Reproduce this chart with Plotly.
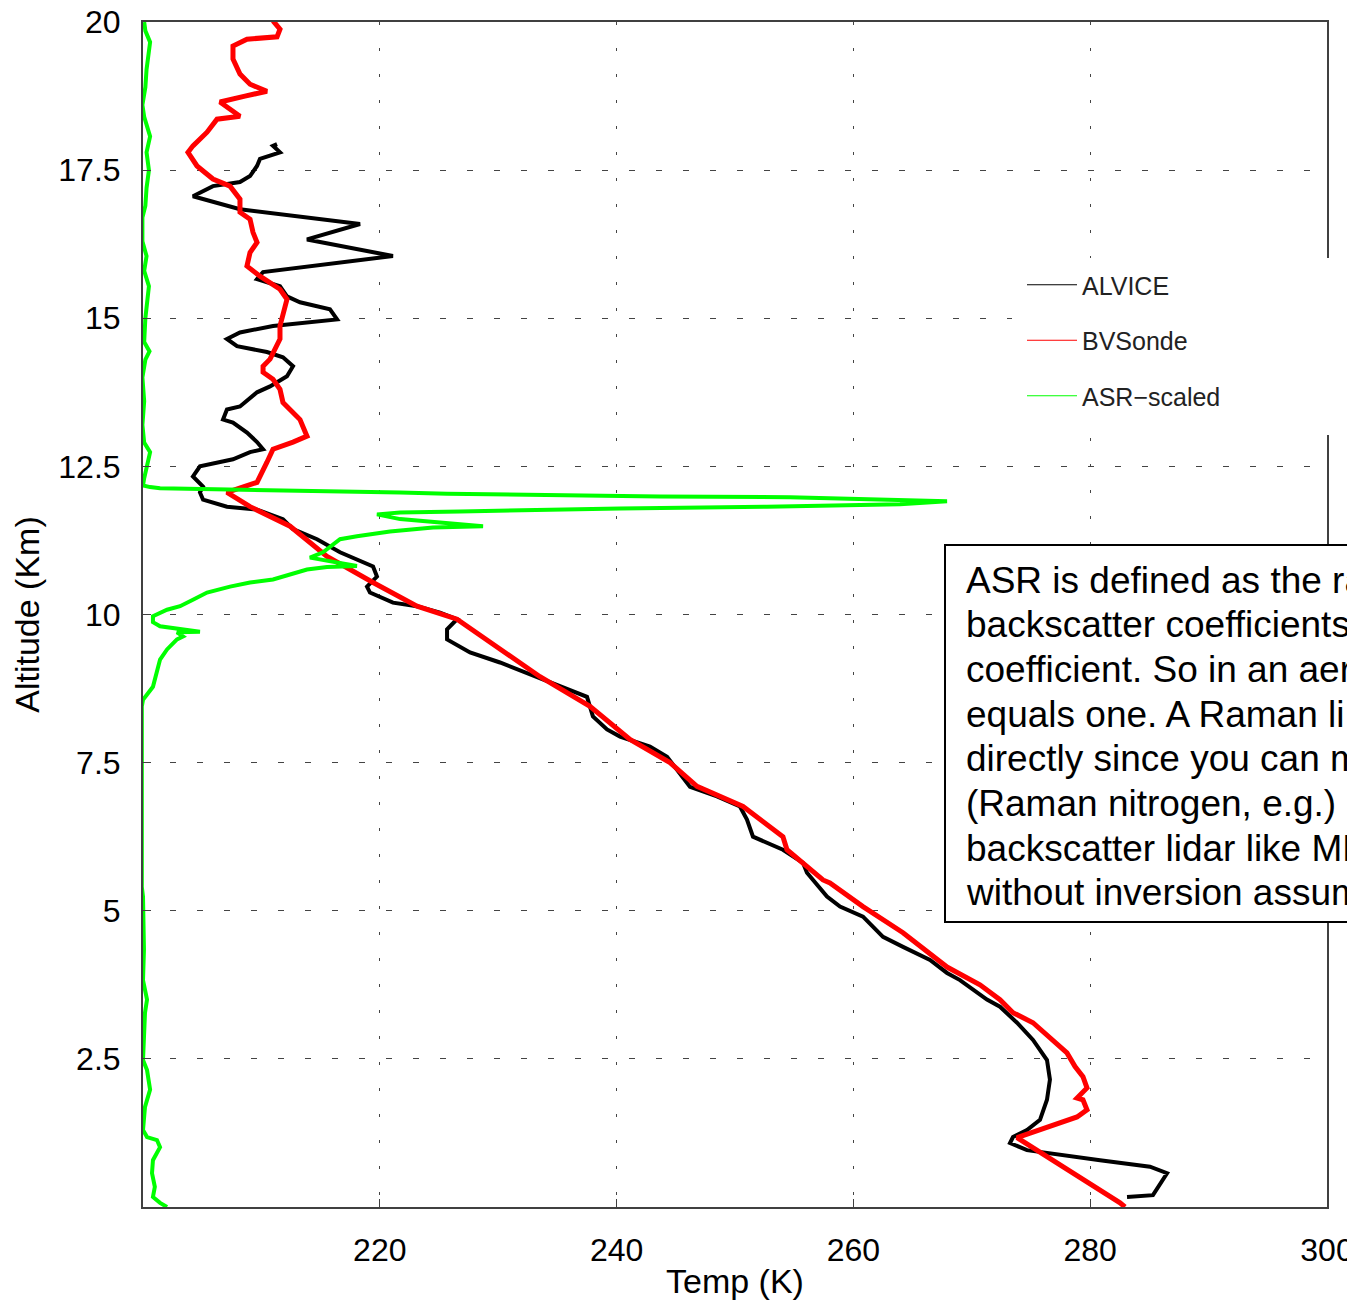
import plotly.graph_objects as go

# ---------------- data ----------------
alvice_temp = [283.11, 285.3, 286.49, 285.05, 280.83, 276.01, 274.66, 273.23, 273.48, 274.66,
               275.76, 276.35, 276.6, 276.35, 275.17, 273.82, 272.38, 271.28, 269.0, 267.91,
               266.47, 264.19, 262.5, 260.81, 258.87, 257.77, 256.08, 255.74, 254.05, 251.52,
               251.01, 250.42, 248.48, 246.2, 245.1, 244.26, 242.82, 240.29, 239.19, 238.0,
               237.5, 233.28, 230.15, 227.62, 225.68, 225.68, 226.52, 225.08, 223.14, 221.11,
               219.17, 218.92, 219.76, 219.43, 218.07, 216.64, 214.7, 212.67, 211.82, 209.63,
               207.09, 205.07, 204.81, 205.07, 204.22, 204.81, 207.6, 209.04, 210.14, 209.63,
               208.78, 207.6, 206.76, 207.09, 208.19, 209.63, 210.73, 212.16, 212.67, 211.82,
               210.47, 207.94, 207.09, 208.19, 210.98, 214.36, 216.39, 215.79, 213.26, 212.16,
               211.57, 209.63, 210.14, 221.11, 213.85, 218.33, 208.19, 204.22, 205.91, 208.19,
               209.04, 209.63, 209.88, 211.57, 210.98, 211.32]
alvice_alt = [0.17, 0.20, 0.57, 0.68, 0.79, 0.91, 0.96, 1.08, 1.18, 1.30,
              1.47, 1.81, 2.15, 2.48, 2.82, 3.11, 3.38, 3.50, 3.83, 3.95,
              4.17, 4.39, 4.56, 4.90, 5.07, 5.24, 5.64, 5.81, 6.03, 6.25,
              6.54, 6.76, 6.93, 7.09, 7.38, 7.60, 7.77, 7.94, 8.06, 8.28,
              8.61, 8.95, 9.19, 9.36, 9.58, 9.75, 9.92, 10.03, 10.14, 10.20,
              10.37, 10.47, 10.64, 10.81, 10.93, 11.05, 11.27, 11.44, 11.61, 11.77,
              11.82, 11.94, 12.06, 12.16, 12.33, 12.50, 12.62, 12.74, 12.79, 12.91,
              13.07, 13.24, 13.29, 13.46, 13.51, 13.75, 13.85, 14.02, 14.19, 14.34,
              14.43, 14.53, 14.65, 14.76, 14.87, 14.93, 14.98, 15.15, 15.27, 15.37,
              15.54, 15.66, 15.78, 16.05, 16.33, 16.59, 16.84, 17.06, 17.23, 17.30,
              17.40, 17.57, 17.69, 17.80, 17.91, 17.94]

bvsonde_temp = [282.94, 282.52, 273.82, 275.76, 278.89, 279.73, 279.39, 278.89, 279.73, 279.39,
                278.72, 278.04, 276.6, 275.17, 273.48, 272.38, 270.69, 267.91, 264.19, 260.81,
                258.02, 257.43, 254.39, 254.05, 250.68, 246.79, 244.51, 241.13, 237.75, 233.53,
                226.52, 223.14, 219.43, 215.54, 212.42, 209.04, 207.09, 209.63, 210.47, 210.98,
                212.67, 213.85, 213.26, 211.82, 211.57, 210.98, 210.14, 210.14, 210.73, 211.57,
                211.57, 211.82, 212.16, 211.57, 209.88, 208.78, 209.04, 209.63, 209.29, 209.04,
                208.19, 208.19, 207.35, 205.91, 204.56, 203.8, 204.22, 205.41, 206.25, 208.19,
                206.5, 208.61, 210.47, 209.04, 208.19, 207.6, 207.6, 208.78, 211.32, 211.57,
                210.98]
bvsonde_alt = [0.0, 0.07, 1.17, 1.30, 1.52, 1.64, 1.81, 1.84, 2.01, 2.20,
               2.37, 2.60, 2.87, 3.11, 3.28, 3.50, 3.75, 4.05, 4.63, 5.07,
               5.47, 5.52, 6.03, 6.25, 6.76, 7.10, 7.50, 7.89, 8.45, 8.95,
               9.92, 10.14, 10.54, 10.98, 11.49, 11.82, 12.06, 12.23, 12.57, 12.79,
               12.91, 13.01, 13.29, 13.58, 13.80, 13.97, 14.09, 14.19, 14.31, 14.65,
               14.87, 15.10, 15.32, 15.49, 15.71, 15.88, 16.11, 16.28, 16.45, 16.67,
               16.79, 17.01, 17.23, 17.35, 17.57, 17.80, 17.91, 18.14, 18.36, 18.41,
               18.65, 18.75, 18.83, 18.95, 19.12, 19.375, 19.595, 19.71, 19.75, 19.88,
               20.02]

asr_temp = [202.03, 201.44, 200.84, 201.0, 200.76, 200.84, 201.44, 201.18, 200.34, 200.0,
            200.17, 200.6, 200.34, 200.0, 200.17, 200.34, 200.0, 200.08, 200.0, 199.9,
            199.9, 200.0, 200.84, 201.18, 201.44, 202.03, 202.87, 203.38, 202.87, 204.81,
            203.38, 201.44, 200.84, 200.84, 202.03, 203.13, 204.22, 205.41, 207.35, 209.04,
            210.98, 212.42, 213.85, 215.54, 218.07, 214.1, 215.2, 216.64, 218.07, 220.86,
            224.49, 228.72, 225.08, 221.71, 219.76, 221.71, 226.77, 233.53, 240.29, 252.7,
            260.56, 263.94, 267.91, 260.56, 254.65, 243.67, 234.8, 225.68, 221.71, 213.26,
            204.81, 201.44, 200.6, 200.0, 200.1, 200.3, 200.6, 200.1, 199.95, 200.1,
            199.95, 200.2, 200.55, 200.1, 200.2, 200.5, 200.1, 200.3, 199.95, 199.95,
            200.2, 200.3, 200.5, 200.3, 200.6, 200.1, 199.95, 200.2, 200.3, 200.6,
            200.2, 200.1]
asr_alt = [0.0, 0.07, 0.17, 0.34, 0.57, 0.79, 1.01, 1.13, 1.18, 1.30,
           1.69, 1.98, 2.31, 2.48, 3.28, 3.50, 3.83, 4.34, 5.24, 5.40,
           8.45, 8.56, 8.78, 9.02, 9.24, 9.41, 9.58, 9.63, 9.70, 9.71,
           9.75, 9.80, 9.87, 9.97, 10.08, 10.14, 10.25, 10.37, 10.47, 10.54,
           10.59, 10.68, 10.76, 10.80, 10.82, 10.96, 11.05, 11.27, 11.32, 11.40,
           11.47, 11.49, 11.55, 11.61, 11.69, 11.72, 11.74, 11.77, 11.79, 11.82,
           11.84, 11.86, 11.91, 11.94, 11.98, 11.99, 12.01, 12.04, 12.06, 12.09,
           12.11, 12.13, 12.15, 12.18, 12.30, 12.50, 12.74, 12.90, 13.20, 13.60,
           14.00, 14.30, 14.44, 14.60, 15.00, 15.54, 15.80, 16.05, 16.30, 16.70,
           16.90, 17.20, 17.50, 17.80, 18.07, 18.40, 18.60, 18.90, 19.20, 19.66,
           19.85, 20.00]

series_names = ["ALVICE", "BVSonde", "ASR\u2212scaled"]
series_colors = ["#000000", "#ff0000", "#00ff00"]

x_ticks = [220, 240, 260, 280, 300]
y_ticks = [2.5, 5, 7.5, 10, 12.5, 15, 17.5, 20]
y_tick_labels = ["2.5", "5", "7.5", "10", "12.5", "15", "17.5", "20"]

# the note box runs off the right edge of the page in the reference
note_lines = [
    "ASR is defined as the ra",
    "backscatter coefficients",
    "coefficient. So in an aer",
    "equals one. A Raman li",
    "directly since you can m",
    "(Raman nitrogen, e.g.) s",
    "backscatter lidar like MP",
    "without inversion assum",
]

# ---------------- layout geometry ----------------
# the page body has an 8px margin, so the figure is offset by 8px
OFF = 8
PAGE_W, PAGE_H = 1355, 1300
W, H = PAGE_W - OFF, PAGE_H - OFF
PL, PR, PT, PB = 143, 1327, 22, 1207          # plot area in page pixels
ML, MR, MT, MB = PL - OFF, PAGE_W - PR, PT - OFF, PAGE_H - PB
PW, PH = PR - PL, PB - PT


def px_x(px):
    return (px - PL) / PW


def px_y(py):
    return (PB - py) / PH


FONT = "Liberation Sans, Arial, Helvetica, sans-serif"

fig = go.Figure()

fig.add_trace(go.Scatter(x=alvice_temp, y=alvice_alt, mode="lines",
                         line=dict(color=series_colors[0], width=4),
                         showlegend=False, hoverinfo="skip"))
fig.add_trace(go.Scatter(x=bvsonde_temp, y=bvsonde_alt, mode="lines",
                         line=dict(color=series_colors[1], width=5),
                         showlegend=False, hoverinfo="skip"))
fig.add_trace(go.Scatter(x=asr_temp, y=asr_alt, mode="lines",
                         line=dict(color=series_colors[2], width=4),
                         showlegend=False, hoverinfo="skip"))

# legend entries (thin lines, as in the reference)
for i, (nm, col) in enumerate(zip(series_names, series_colors)):
    fig.add_trace(go.Scatter(x=[None], y=[None], mode="lines", name=nm,
                             line=dict(color=col, width=1),
                             legendgroup=f"g{i}", showlegend=True))

axis_common = dict(
    showline=True, linecolor="#404040", linewidth=2, mirror=True,
    ticks="inside", ticklen=8, tickwidth=1, tickcolor="#404040",
    showgrid=True, gridcolor="#444444", gridwidth=1,
    zeroline=False, ticklabeloverflow="allow",
    tickfont=dict(family=FONT, size=32, color="#000000"),
)

fig.update_xaxes(**axis_common, range=[200, 300], tickvals=x_ticks,
                 griddash="3px,23px", ticklabelstandoff=14,
                 title=dict(text="Temp (K)", font=dict(family=FONT, size=34, color="#000000"),
                            standoff=4))
fig.update_yaxes(**axis_common, range=[0, 20], tickvals=y_ticks, ticktext=y_tick_labels,
                 griddash="6px,21px", ticklabelstandoff=14,
                 title=dict(text="Altitude (Km)", font=dict(family=FONT, size=34, color="#000000"),
                            standoff=12))

shapes = [
    # white area behind the legend (hides grid and right spine)
    dict(type="rect", xref="paper", yref="paper", layer="above",
         x0=px_x(1012), x1=px_x(1370), y0=px_y(435), y1=px_y(258),
         fillcolor="white", line=dict(width=0)),
    # text box
    dict(type="rect", xref="paper", yref="paper", layer="above",
         x0=px_x(945), x1=px_x(1380), y0=px_y(922), y1=px_y(545),
         fillcolor="white", line=dict(color="black", width=2)),
]

annotations = []
for i, line in enumerate(note_lines):
    annotations.append(dict(
        xref="paper", yref="paper", x=px_x(964), y=px_y(580 + i * 44.7),
        xanchor="left", yanchor="middle", text=line, showarrow=False,
        font=dict(family=FONT, size=37, color="black"), align="left"))

fig.update_layout(
    width=W, height=H,
    margin=dict(l=ML, r=MR, t=MT, b=MB, autoexpand=False),
    paper_bgcolor="white", plot_bgcolor="white",
    shapes=shapes, annotations=annotations,
    legend=dict(x=px_x(1022), y=px_y(262), xanchor="left", yanchor="top",
                bgcolor="rgba(0,0,0,0)", borderwidth=0,
                font=dict(family=FONT, size=25, color="#222222"),
                itemwidth=50, tracegroupgap=20),
)

fig.write_html("out.html")
